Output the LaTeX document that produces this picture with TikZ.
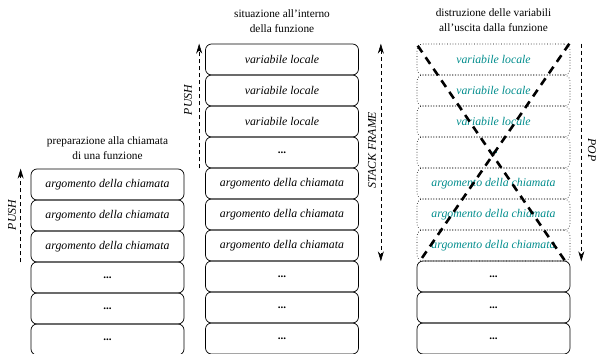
\documentclass[tikz,border=0pt]{standalone}
\usepackage{fontspec}
\setmainfont{Liberation Serif}
\usetikzlibrary{arrows.meta}
\definecolor{myteal}{RGB}{0,140,140}
\begin{document}
\begin{tikzpicture}[x=1pt,y=-1pt,
  cell/.style={draw, line width=0.7pt, rounded corners=6pt, minimum width=153pt, minimum height=31pt, inner sep=0pt, font=\itshape\fontsize{11.8}{13}\selectfont},
  ghost/.style={cell, dotted, line width=0.6pt, text=myteal},
  dotcell/.style={cell, font=\bfseries\fontsize{11}{11}\selectfont},
  title/.style={align=center, font=\fontsize{11.3}{15}\selectfont},
  arr/.style={dashed, dash pattern=on 4pt off 3pt, line width=0.6pt, -{Stealth[length=10pt,width=6pt]}},
  darr/.style={dashed, dash pattern=on 4pt off 3pt, line width=0.6pt, {Stealth[length=10pt,width=6pt]}-{Stealth[length=10pt,width=6pt]}},
  lab/.style={font=\itshape\fontsize{11.8}{13}\selectfont},
  cross/.style={line width=2.6pt, dash pattern=on 8pt off 6pt}]
\useasboundingbox (0,0) rectangle (601,353);

% column 1
\node[title] (t1) at (107.5,148) {preparazione alla chiamata\\di una funzione};
\node[cell] (a1) at (107.5,184.5) {argomento della chiamata};
\node[cell] (a2) at (107.5,215.5) {argomento della chiamata};
\node[cell] (a3) at (107.5,246.5) {argomento della chiamata};
\node[dotcell] (a4) at (107.5,277.5) {...};
\node[dotcell] (a5) at (107.5,308.5) {...};
\node[dotcell] (a6) at (107.5,339.5) {...};

% column 2
\node[title] (t2) at (282,21) {situazione all’interno\\della funzione};
\node[cell] (b1) at (282,59.5) {variabile locale};
\node[cell] (b2) at (282,90.5) {variabile locale};
\node[cell] (b3) at (282,121.5) {variabile locale};
\node[dotcell] (b4) at (282,152.5) {...};
\node[cell] (b5) at (282,183.5) {argomento della chiamata};
\node[cell] (b6) at (282,214.5) {argomento della chiamata};
\node[cell] (b7) at (282,245.5) {argomento della chiamata};
\node[dotcell] (b8) at (282,276.5) {...};
\node[dotcell] (b9) at (282,307.5) {...};
\node[dotcell] (b10) at (282,338.5) {...};

% column 3
\node[title] (t3) at (493.5,20) {distruzione delle variabili\\all’uscita dalla funzione};
\node[ghost] (c1) at (493.5,59.5) {variabile locale};
\node[ghost] (c2) at (493.5,90.5) {variabile locale};
\node[ghost] (c3) at (493.5,121.5) {variabile locale};
\node[ghost, font=\bfseries\fontsize{11}{11}\selectfont] (c4) at (493.5,152.5) {...};
\node[ghost] (c5) at (493.5,183.5) {argomento della chiamata};
\node[ghost] (c6) at (493.5,214.5) {argomento della chiamata};
\node[ghost] (c7) at (493.5,245.5) {argomento della chiamata};
\node[dotcell] (c8) at (493.5,276.5) {...};
\node[dotcell] (c9) at (493.5,307.5) {...};
\node[dotcell] (c10) at (493.5,338.5) {...};

% arrows
\draw[arr] ([xshift=-10pt]a3.south west) -- ([xshift=-10pt]a1.north west);
\node[lab, rotate=90] (l1) at (12,215) {PUSH};

\draw[arr] ([xshift=-6pt]b4.south west) -- ([xshift=-6pt]b1.north west);
\node[lab, rotate=90] (l2) at (188,100) {PUSH};

\draw[darr] ([xshift=22pt]b1.north east) -- ([xshift=22pt]b7.south east);
\node[lab, rotate=90] (l3) at (372,150) {STACK FRAME};

\draw[arr] ([xshift=11pt]c1.north east) -- ([xshift=11pt]c7.south east);
\node[lab, rotate=-90] (l4) at (592,150) {POP};

% cross
\draw[cross] ([shift={(1,2)}]c1.north west) -- ([shift={(-5,0)}]c7.south east);
\draw[cross] ([shift={(-1,0)}]c1.north east) -- ([shift={(3,0)}]c7.south west);
\end{tikzpicture}
\end{document}
